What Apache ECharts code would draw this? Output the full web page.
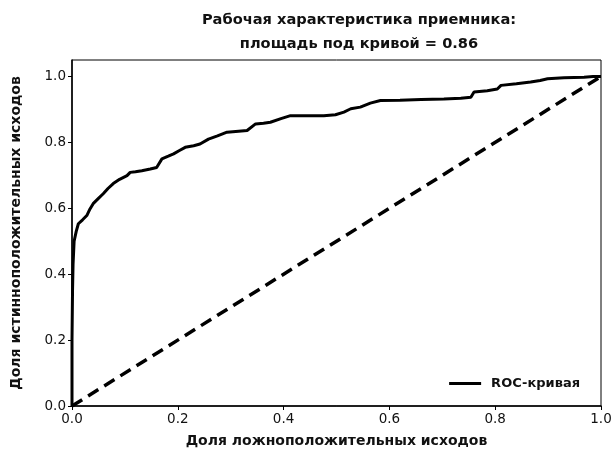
<!DOCTYPE html>
<html>
<head>
<meta charset="utf-8">
<script src="https://cdn.jsdelivr.net/npm/echarts@6/dist/echarts.min.js"></script>
<style>
  html, body { margin: 0; padding: 0; background: #fff; }
  #chart { width: 615px; height: 458px; }
</style>
</head>
<body>
<div id="chart"></div>
<script>
// ROC curve: false positive rate / true positive rate
const fpr = [0.000, 0.000, 0.001, 0.002, 0.004, 0.008, 0.012, 0.020, 0.028, 0.034, 0.040, 0.050, 0.059, 0.068,
  0.078, 0.090, 0.104, 0.110, 0.120, 0.132, 0.148, 0.160, 0.170, 0.182, 0.192, 0.204, 0.214, 0.230, 0.242,
  0.258, 0.275, 0.293, 0.315, 0.331, 0.347, 0.362, 0.375, 0.395, 0.413, 0.440, 0.476, 0.498, 0.514, 0.527,
  0.545, 0.564, 0.583, 0.620, 0.660, 0.703, 0.735, 0.754, 0.760, 0.785, 0.804, 0.811, 0.840, 0.867, 0.885,
  0.899, 0.930, 0.968, 0.985, 1.000];
const tpr = [0.000, 0.200, 0.350, 0.430, 0.500, 0.530, 0.553, 0.565, 0.578, 0.598, 0.614, 0.630, 0.644, 0.660,
  0.675, 0.688, 0.699, 0.709, 0.711, 0.714, 0.719, 0.724, 0.750, 0.758, 0.765, 0.776, 0.785, 0.790, 0.795,
  0.810, 0.820, 0.831, 0.834, 0.836, 0.856, 0.858, 0.861, 0.872, 0.881, 0.881, 0.881, 0.884, 0.892, 0.902,
  0.907, 0.919, 0.927, 0.928, 0.930, 0.932, 0.934, 0.937, 0.953, 0.957, 0.962, 0.973, 0.978, 0.983, 0.988,
  0.993, 0.996, 0.998, 1.000, 1.000];
// chance diagonal
const chanceX = [0, 1];
const chanceY = [0, 1];
const tickValues = [0, 0.2, 0.4, 0.6, 0.8, 1.0];

const titleLines = ['Рабочая характеристика приемника:', 'площадь под кривой = 0.86'];
const xName = 'Доля ложноположительных исходов';
const yName = 'Доля истинноположительных исходов';
const seriesName = 'ROC-кривая';

const FONT = 'DejaVu Sans';
const chart = echarts.init(document.getElementById('chart'), null, { renderer: 'canvas' });

const axisCommon = {
  type: 'value',
  nameLocation: 'middle',
  nameTextStyle: { fontFamily: FONT, fontSize: 14, fontWeight: 'bold', color: '#111' },
  axisLine: { show: true, lineStyle: { color: '#000', width: 1.5 } },
  axisTick: { show: true, inside: false, length: 4, lineStyle: { color: '#000', width: 1 }, customValues: tickValues },
  axisLabel: { show: true, fontFamily: FONT, fontSize: 13.5, color: '#111', margin: 6,
    customValues: tickValues, formatter: v => v.toFixed(1) },
  splitLine: { show: false }
};

chart.setOption({
  animation: false,
  backgroundColor: '#fff',
  title: {
    text: titleLines.join('\n'),
    left: 354,
    top: 3,
    textAlign: 'center',
    textStyle: { fontFamily: FONT, fontSize: 14.6, fontWeight: 'bold', color: '#111', lineHeight: 24, align: 'center' }
  },
  grid: { left: 72, right: 14, top: 60, bottom: 52, show: true, borderColor: '#000', borderWidth: 1, backgroundColor: '#fff' },
  xAxis: Object.assign({}, axisCommon, { min: 0, max: 1, interval: 0.2, name: xName, nameGap: 28 }),
  yAxis: Object.assign({}, axisCommon, { min: 0, max: 1.05, interval: 0.2, name: yName, nameGap: 49 }),
  legend: {
    data: [seriesName],
    right: 30,
    top: 372,
    icon: 'rect',
    itemWidth: 32,
    itemHeight: 3,
    itemGap: 10,
    textStyle: { fontFamily: FONT, fontSize: 13, fontWeight: 'bold', color: '#111', padding: [0, 0, 0, 5] }
  },
  series: [
    {
      name: seriesName,
      type: 'line',
      data: fpr.map((x, i) => [x, tpr[i]]),
      showSymbol: false,
      lineStyle: { color: '#000', width: 3 },
      itemStyle: { color: '#000' },
      z: 3
    },
    {
      name: 'chance',
      type: 'line',
      data: chanceX.map((x, i) => [x, chanceY[i]]),
      showSymbol: false,
      lineStyle: { color: '#000', width: 3.5, type: [12, 7] },
      itemStyle: { color: '#000' },
      z: 2
    }
  ]
});
</script>
</body>
</html>
